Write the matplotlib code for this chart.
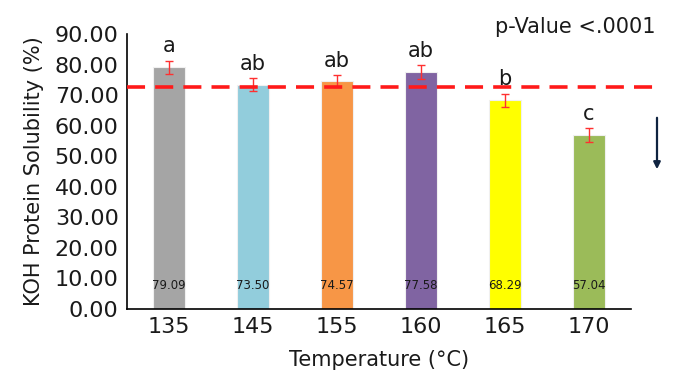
import numpy as np
import matplotlib.pyplot as plt
from matplotlib.patches import FancyArrowPatch

temps = ["135", "145", "155", "160", "165", "170"]
solubility = [79.09, 73.50, 74.57, 77.58, 68.29, 57.04]
errors = [2.2, 2.2, 2.0, 2.2, 2.2, 2.2]
letters = ["a", "ab", "ab", "ab", "b", "c"]
colors = ["#A5A5A5", "#92CDDC", "#F79646", "#8064A2", "#FFFF00", "#9BBB59"]
ref_line = 72.8

plt.rcParams['font.family'] = ['DejaVu Sans']

fig = plt.figure(figsize=(6.96, 3.88), dpi=100)
ax = fig.add_axes([0.1825, 0.2036, 0.7241, 0.7084])

x = np.arange(len(temps))
ax.bar(x, solubility, width=0.39, color=colors, edgecolor="#f0f0f0", linewidth=0.8, zorder=2)
ax.errorbar(x, solubility, yerr=errors, fmt="none", ecolor="#FF3030", elinewidth=1.0,
            capsize=3, capthick=1.0, zorder=3)

for xi, v, e, lab in zip(x, solubility, errors, letters):
    ax.text(xi, v + e + 1.4, lab, ha="center", va="bottom", fontsize=15, color="#1a1a1a")
    ax.text(xi, 7.8, f"{v:.2f}", ha="center", va="center", fontsize=8.5, color="#1a1a1a")

ax.axhline(ref_line, xmin=0, xmax=1.054, color="#FF1A1A", lw=2.6, dashes=(5, 2.8),
           clip_on=False, zorder=4)

ax.set_xlim(-0.5, 5.5)
ax.set_ylim(0, 90)
ax.set_yticks(np.arange(0, 91, 10))
ax.set_yticklabels([f"{t:.2f}" for t in np.arange(0, 91, 10)])
ax.set_xticks(x)
ax.set_xticklabels(temps)
ax.tick_params(axis="both", length=0, labelsize=16, colors="#1a1a1a", pad=6)
ax.spines["top"].set_visible(False)
ax.spines["right"].set_visible(False)
ax.spines["left"].set_linewidth(1.2)
ax.spines["bottom"].set_linewidth(1.2)

ax.set_ylabel("KOH Protein Solubility (%)", fontsize=15, color="#1a1a1a", labelpad=8)
ax.set_xlabel("Temperature (\u00b0C)", fontsize=15, color="#1a1a1a", labelpad=9)

fig.text(0.9425, 0.93, "p-Value <.0001", ha="right", va="center", fontsize=15, color="#1a1a1a")

fig.patches.append(FancyArrowPatch(
    (657 / 696, 1 - 115 / 388), (657 / 696, 1 - 172 / 388), transform=fig.transFigure,
    arrowstyle="-|>", mutation_scale=10, color="#0F2340", lw=1.6))

fig.savefig("out.png", dpi=100)
